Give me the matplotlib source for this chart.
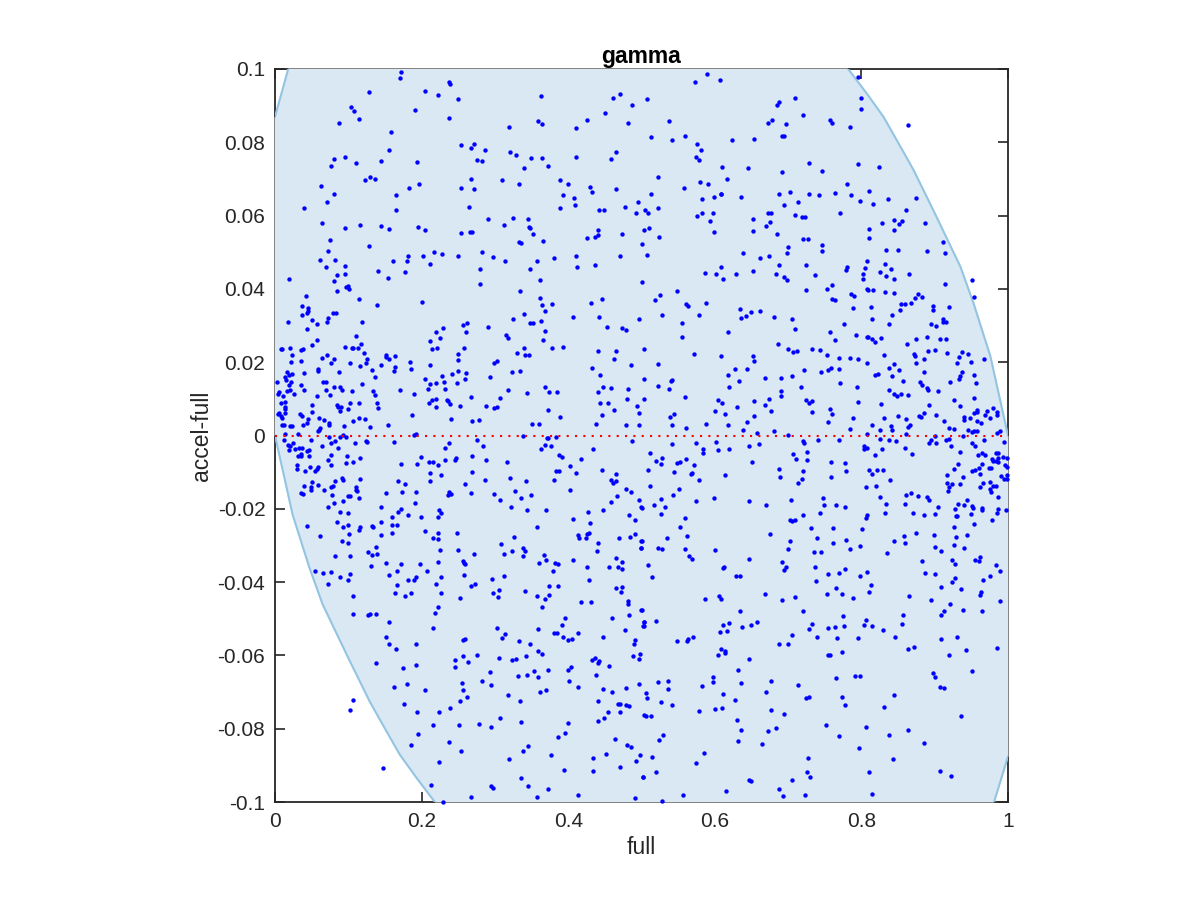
import numpy as np
import matplotlib
matplotlib.use('Agg')
import matplotlib.pyplot as plt

plt.rcParams['font.family'] = ['Liberation Sans', 'DejaVu Sans']
plt.rcParams['axes.unicode_minus'] = False

# (full, accel-full), one list per quadrant
upper_left = [
(.172,.0993),(.171,.0975),(.238,.0965),(.239,.0959),(.128,.0936),(.205,.094),(.223,.0928),(.250,.0919),(.363,.0927),(.471,.0932),
(.461,.092),(.487,.0902),(.104,.0896),(.108,.0886),(.191,.0888),(.115,.0864),(.238,.0867),(.450,.0881),(.425,.0861),(.359,.0858),
(.364,.0851),(.481,.0852),(.087,.0852),(.319,.0841),(.410,.084),(.158,.0828),(.155,.0778),(.254,.0793),(.272,.0795),(.267,.0784),
(.287,.078),(.320,.0773),(.329,.0764),(.465,.0773),(.459,.0755),(.096,.0761),(.081,.0755),(.111,.0744),(.145,.0749),(.194,.0745),
(.275,.0753),(.283,.0750),(.349,.0758),(.364,.0758),(.410,.0760),(.077,.0735),(.340,.0731),(.372,.0734),(.123,.0697),(.129,.0706),
(.136,.0700),(.267,.0700),(.310,.0697),(.389,.0697),(.400,.0687),(.333,.0686),(.197,.0687),(.063,.0680),(.183,.0676),(.254,.0676),
(.272,.0672),(.430,.0677),(.433,.0664),(.465,.0673),(.081,.0659),(.165,.0657),(.393,.0656),(.408,.0648),(.071,.0637),(.409,.0630),
(.495,.0637),(.040,.0622),(.264,.0624),(.389,.0620),(.442,.0616),(.449,.0616),(.478,.0624),(.165,.0614),(.492,.0608),(.291,.0591),
(.325,.0594),(.345,.0590),(.064,.0580),(.313,.0575),(.116,.0573),(.144,.0571),(.095,.0567),(.155,.0564),(.195,.0570),(.205,.0562),
(.347,.0570),(.348,.0566),(.254,.0552),(.266,.0556),(.269,.0556),(.352,.0550),(.440,.0560),(.473,.0551),(.426,.0539),(.436,.0541),
(.440,.0546),(.075,.0534),(.333,.0528),(.335,.0524),(.365,.0531),(.128,.0518),(.072,.0503),(.062,.0479),(.082,.0480),(.182,.0489),
(.202,.0490),(.217,.0500),(.228,.0495),(.250,.0490),(.283,.0501),(.297,.0487),(.471,.0489),(.410,.0489),(.161,.0477),(.180,.0475),
(.314,.0476),(.358,.0476),(.381,.0483),(.096,.0463),(.070,.0460),(.212,.0467),(.412,.0460),(.437,.0464),(.348,.0455),(.140,.0450),
(.279,.0453),(.177,.0447),(.095,.0441),(.085,.0439),(.154,.0431),(.019,.0426),(.362,.0423),(.081,.0422),(.280,.0413),(.099,.0409),
(.097,.0404),(.101,.0400),(.085,.0395),(.334,.0393),(.042,.0381),(.115,.0373),(.362,.0375),(.200,.0365),(.431,.0362),(.446,.0372),
(.378,.0360),(.364,.0357),(.139,.0355),(.037,.0354),(.045,.0347),(.045,.0341),(.044,.0334),(.079,.0334),(.083,.0335),(.369,.0339),
(.037,.0328),(.340,.0331),(.072,.0321),(.406,.0323),(.325,.0319),(.442,.0322),(.496,.0318),(.051,.0314),(.363,.0313),(.018,.0309),
(.071,.0309),(.119,.0309),(.057,.0304),(.257,.0302),(.262,.0308),(.348,.0306),(.352,.0306),(.290,.0297),(.229,.0293),(.453,.0297),
(.474,.0292),(.479,.0287),(.043,.0290),(.219,.0283),(.261,.0282),(.369,.0284),(.315,.0275),(.111,.0271),(.318,.0266),(.225,.0265),
(.057,.0261),(.211,.0258),(.366,.0260),(.050,.0246),(.117,.0250),(.096,.0242),(.008,.0235),(.010,.0236),(.021,.0240),(.105,.0238),
(.107,.0240),(.113,.0240),(.221,.0239),(.214,.0235),(.258,.0238),(.340,.0240),(.378,.0239),(.393,.0241),(.441,.0231),(.465,.0230),
(.036,.0232),(.038,.0236),(.330,.0226),(.121,.0224),(.023,.0219),(.071,.0220),(.152,.0220),(.152,.0215),(.164,.0218),(.249,.0222),
(.341,.0221),(.346,.0220),(.064,.0211),(.081,.0209),(.156,.0210),(.125,.0208),(.124,.0199),(.249,.0206),(.462,.0208),(.022,.0200),
(.036,.0202),(.077,.0197),(.103,.0199),(.145,.0193),(.184,.0201),(.212,.0193),(.299,.0198),(.303,.0204),(.485,.0191),(.116,.0190),
(.059,.0181),(.058,.0176),(.164,.0186),(.162,.0177),(.432,.0183),(.132,.0179),(.186,.0181),(.323,.0173),(.334,.0176),(.017,.0172),
(.019,.0166),(.023,.0167),(.039,.0170),(.087,.0173),(.242,.0168),(.250,.0175),(.261,.0170),(.228,.0162),(.293,.0160),(.444,.0166),
(.137,.0160),(.013,.0159),(.015,.0152),(.259,.0153),(.003,.0146),(.022,.0147),(.066,.0146),(.069,.0146),(.231,.0146),(.205,.0153),
(.219,.0143),(.212,.0141),(.248,.0142),(.119,.0141),(.036,.0137),(.019,.0137),(.368,.0133),(.448,.0131),(.458,.0130),(.089,.0131),
(.080,.0131),(.070,.0125),(.039,.0123),(.091,.0124),(.021,.0125),(.016,.0121),(.105,.0121),(.134,.0122),(.171,.0123),(.209,.0126),
(.232,.0128),(.318,.0124),(.482,.0126),(.005,.0118),(.004,.0112),(.026,.0114),(.374,.0118),(.385,.0118),(.344,.0116),(.441,.0118),
(.136,.0111),(.189,.0112),(.075,.0111),(.057,.0109),(.011,.0108),(.267,.0105),(.307,.0101),(.480,.0099),(.220,.0100),(.214,.0098),
(.234,.0098),(.236,.0094),(.013,.0092),(.008,.0089),(.102,.0090),(.115,.0089),(.139,.0088),(.210,.0090),(.443,.0089),(.454,.0089),
(.239,.0087),(.084,.0083),(.086,.0079),(.051,.0082),(.090,.0077),(.013,.0079),(.219,.0078),(.252,.0081),(.288,.0081),(.303,.0079),
(.299,.0074),(.141,.0076),(.100,.0071),(.494,.0080),(.462,.0070),(.013,.0071),(.372,.0069),(.004,.0060),(.006,.0061),(.088,.0066),
(.051,.0065),(.013,.0061),(.034,.0060),(.037,.0052),(.008,.0054),(.009,.0049),(.187,.0057),(.446,.0057),(.497,.0061),(.060,.0049),
(.115,.0049),(.123,.0046),(.389,.0050),(.045,.0044),(.240,.0044),(.067,.0041),(.106,.0040),(.269,.0039),(.278,.0041),(.073,.0034),
(.043,.0034),(.073,.0029),(.010,.0030),(.012,.0030),(.038,.0030),(.154,.0030),(.351,.0032),(.360,.0032),(.438,.0031),(.479,.0028),
(.497,.0030),(.094,.0025),(.020,.0026),(.023,.0025),(.130,.0022),(.061,.0021),(.060,.0016),(.058,.0011),(.031,.0005),(.014,.0003),
(.193,.0005),(.190,.0001),(.093,.0001),(.073,-.0005),(.089,-.0003),(.097,-.0003),(.338,-.0001),(.371,-.0006),(.384,-.0003),
]

upper_right = [
(.590,.0985),(.573,.0964),(.607,.0969),(.796,.0979),(.508,.0917),(.709,.0922),(.799,.0922),(.688,.0909),(.685,.0903),(.800,.0892),
(.720,.0875),(.538,.0857),(.678,.0862),(.672,.0854),(.697,.0849),(.757,.0860),(.760,.0852),(.864,.0847),(.784,.0841),(.513,.0815),
(.559,.0817),(.653,.0810),(.691,.0816),(.694,.0817),(.541,.0807),(.623,.0805),(.576,.0796),(.581,.0780),(.574,.0760),(.578,.0753),
(.729,.0744),(.796,.0740),(.610,.0733),(.645,.0729),(.824,.0733),(.692,.0718),(.746,.0721),(.523,.0704),(.617,.0700),(.580,.0692),
(.591,.0686),(.781,.0685),(.558,.0676),(.513,.0660),(.608,.0659),(.609,.0658),(.688,.0660),(.703,.0665),(.729,.0658),(.742,.0657),
(.764,.0663),(.786,.0657),(.811,.0667),(.599,.0652),(.636,.0651),(.583,.0645),(.798,.0640),(.836,.0644),(.875,.0647),(.714,.0637),
(.816,.0631),(.695,.0628),(.523,.0622),(.505,.0616),(.509,.0607),(.576,.0600),(.583,.0606),(.597,.0607),(.672,.0607),(.677,.0608),
(.710,.0603),(.771,.0608),(.861,.0616),(.652,.0591),(.719,.0595),(.723,.0596),(.593,.0585),(.675,.0583),(.828,.0580),(.844,.0587),
(.856,.0585),(.851,.0578),(.887,.0581),(.670,.0571),(.503,.0561),(.510,.0565),(.811,.0563),(.845,.0562),(.652,.0557),(.599,.0556),
(.685,.0551),(.524,.0541),(.721,.0536),(.727,.0535),(.811,.0538),(.912,.0527),(.500,.0522),(.746,.0519),(.700,.0514),(.746,.0504),
(.834,.0507),(.850,.0506),(.889,.0503),(.639,.0498),(.698,.0497),(.914,.0498),(.507,.0493),(.674,.0490),(.661,.0484),(.808,.0477),
(.724,.0466),(.687,.0464),(.832,.0467),(.781,.0461),(.608,.0461),(.805,.0458),(.841,.0454),(.779,.0451),(.652,.0450),(.825,.0446),
(.587,.0443),(.602,.0441),(.684,.0441),(.629,.0440),(.737,.0438),(.802,.0440),(.865,.0441),(.833,.0435),(.695,.0433),(.611,.0427),
(.802,.0426),(.844,.0427),(.951,.0424),(.699,.0423),(.500,.0420),(.760,.0411),(.914,.0413),(.724,.0398),(.753,.0399),(.807,.0400),
(.809,.0396),(.816,.0397),(.549,.0395),(.832,.0391),(.845,.0390),(.786,.0387),(.790,.0381),(.525,.0382),(.883,.0379),(.877,.0385),
(.954,.0379),(.873,.0374),(.518,.0370),(.760,.0373),(.764,.0369),(.588,.0362),(.854,.0359),(.859,.0360),(.867,.0361),(.561,.0358),
(.563,.0352),(.898,.0354),(.789,.0348),(.813,.0350),(.920,.0350),(.634,.0345),(.897,.0343),(.852,.0342),(.650,.0337),(.661,.0339),
(.528,.0329),(.579,.0329),(.842,.0328),(.636,.0321),(.642,.0327),(.681,.0324),(.705,.0318),(.815,.0319),(.912,.0318),(.916,.0310),
(.912,.0310),(.555,.0308),(.776,.0305),(.838,.0304),(.895,.0304),(.902,.0300),(.710,.0290),(.618,.0283),(.757,.0282),(.555,.0270),
(.793,.0273),(.807,.0270),(.809,.0270),(.764,.0261),(.814,.0264),(.827,.0267),(.874,.0263),(.890,.0268),(.907,.0264),(.915,.0262),
(.819,.0255),(.686,.0250),(.862,.0250),(.503,.0237),(.700,.0236),(.707,.0229),(.712,.0231),(.733,.0235),(.743,.0232),(.901,.0233),
(.891,.0230),(.572,.0223),(.872,.0223),(.917,.0226),(.937,.0227),(.945,.0223),(.652,.0216),(.609,.0216),(.753,.0219),(.831,.0220),
(.873,.0216),(.933,.0213),(.769,.0211),(.785,.0211),(.795,.0208),(.886,.0208),(.967,.0208),(.654,.0202),(.807,.0199),(.875,.0199),
(.930,.0198),(.950,.0201),(.522,.0195),(.844,.0196),(.837,.0184),(.627,.0181),(.644,.0181),(.722,.0179),(.759,.0183),(.755,.0179),
(.769,.0181),(.745,.0173),(.851,.0180),(.886,.0174),(.937,.0172),(.618,.0165),(.822,.0169),(.818,.0166),(.954,.0166),(.668,.0158),
(.705,.0161),(.842,.0161),(.690,.0157),(.503,.0154),(.935,.0161),(.933,.0154),(.542,.0151),(.540,.0149),(.633,.0148),(.857,.0150),
(.880,.0146),(.921,.0145),(.771,.0144),(.956,.0143),(.522,.0135),(.619,.0133),(.717,.0131),(.794,.0131),(.882,.0137),(.890,.0130),
(.538,.0127),(.838,.0124),(.891,.0123),(.904,.0121),(.690,.0121),(.845,.0113),(.848,.0109),(.854,.0114),(.864,.0111),(.690,.0107),
(.559,.0105),(.504,.0099),(.604,.0098),(.674,.0100),(.725,.0098),(.728,.0090),(.733,.0093),(.796,.0091),(.926,.0096),(.954,.0101),
(.610,.0088),(.654,.0094),(.668,.0083),(.827,.0085),(.892,.0084),(.630,.0078),(.934,.0081),(.757,.0072),(.676,.0068),(.600,.0066),
(.733,.0064),(.886,.0062),(.958,.0070),(.972,.0068),(.980,.0074),(.985,.0065),(.958,.0063),(.954,.0061),(.614,.0060),(.760,.0058),
(.902,.0057),(.544,.0059),(.985,.0055),(.969,.0055),(.654,.0054),(.850,.0054),(.879,.0052),(.881,.0051),(.539,.0050),(.940,.0051),
(.948,.0049),(.975,.0047),(.788,.0047),(.831,.0047),(.861,.0045),(.940,.0042),(.913,.0039),(.958,.0039),(.754,.0036),(.644,.0036),
(.588,.0032),(.963,.0033),(.541,.0030),(.618,.0030),(.814,.0030),(.841,.0027),(.866,.0029),(.864,.0022),(.561,.0021),(.784,.0019),
(.842,.0016),(.919,.0020),(.927,.0019),(.639,.0014),(.681,.0013),(.825,.0016),(.945,.0014),(.958,.0013),(.954,.0011),(.951,.0009),
(.989,.0011),(.985,.0007),(.658,.0006),(.700,.0002),(.808,.0003),(.861,.0005),(.900,.0000),(.939,-.0002),
]

lower_left = [
(.012,-.0012),(.049,-.0012),(.025,-.0020),(.018,-.0025),(.020,-.0028),(.064,-.0030),(.076,-.0020),(.082,-.0014),(.109,-.0020),(.124,-.0014),
(.126,-.0019),(.163,-.0017),(.275,-.0013),(.238,-.0021),(.284,-.0030),(.232,-.0035),(.487,-.0014),(.372,-.0007),(.368,-.0026),(.376,-.0030),
(.363,-.0037),(.434,-.0036),(.027,-.0036),(.019,-.0039),(.033,-.0033),(.037,-.0034),(.086,-.0034),(.044,-.0041),(.046,-.0039),(.036,-.0050),
(.036,-.0056),(.031,-.0057),(.047,-.0055),(.076,-.0054),(.098,-.0055),(.116,-.0062),(.388,-.0053),(.391,-.0059),(.417,-.0064),(.199,-.0060),
(.247,-.0061),(.245,-.0066),(.269,-.0056),(.232,-.0067),(.288,-.0067),(.072,-.0067),(.106,-.0071),(.097,-.0074),(.210,-.0071),(.215,-.0071),
(.316,-.0072),(.172,-.0078),(.194,-.0078),(.077,-.0080),(.030,-.0080),(.222,-.0081),(.403,-.0083),(.048,-.0086),(.058,-.0086),(.057,-.0092),
(.030,-.0091),(.041,-.0098),(.055,-.0097),(.383,-.0097),(.388,-.0096),(.446,-.0093),(.212,-.0101),(.269,-.0100),(.410,-.0102),(.465,-.0104),
(.226,-.0109),(.320,-.0117),(.091,-.0117),(.093,-.0122),(.116,-.0120),(.050,-.0126),(.082,-.0124),(.212,-.0125),(.168,-.0125),(.287,-.0121),
(.343,-.0123),(.381,-.0122),(.458,-.0122),(.461,-.0129),(.465,-.0124),(.178,-.0131),(.259,-.0131),(.059,-.0134),(.039,-.0137),(.049,-.0140),
(.079,-.0139),(.076,-.0140),(.110,-.0141),(.049,-.0149),(.067,-.0150),(.111,-.0148),(.112,-.0152),(.402,-.0150),(.328,-.0151),(.479,-.0147),
(.485,-.0154),(.192,-.0154),(.173,-.0155),(.152,-.0158),(.267,-.0156),(.238,-.0154),(.236,-.0162),(.240,-.0160),(.036,-.0158),(.038,-.0159),
(.078,-.0161),(.299,-.0160),(.349,-.0162),(.466,-.0165),(.100,-.0165),(.102,-.0164),(.115,-.0170),(.336,-.0170),(.307,-.0177),(.497,-.0176),
(.081,-.0184),(.093,-.0180),(.191,-.0184),(.459,-.0181),(.145,-.0194),(.072,-.0195),(.322,-.0195),(.500,-.0197),(.172,-.0200),(.224,-.0202),
(.344,-.0203),(.370,-.0203),(.448,-.0202),(.089,-.0208),(.168,-.0210),(.226,-.0211),(.100,-.0212),(.427,-.0208),(.182,-.0216),(.483,-.0217),
(.160,-.0223),(.199,-.0222),(.223,-.0223),(.406,-.0228),(.491,-.0230),(.085,-.0237),(.144,-.0237),(.430,-.0240),(.099,-.0243),(.160,-.0243),
(.166,-.0243),(.044,-.0248),(.132,-.0247),(.134,-.0250),(.093,-.0250),(.116,-.0250),(.114,-.0258),(.357,-.0249),(.204,-.0260),(.160,-.0266),
(.101,-.0270),(.145,-.0271),(.223,-.0267),(.248,-.0267),(.428,-.0265),(.491,-.0270),(.061,-.0275),(.326,-.0276),(.413,-.0272),(.415,-.0279),
(.424,-.0279),(.425,-.0270),(.215,-.0281),(.222,-.0282),(.469,-.0279),(.484,-.0278),(.500,-.0289),(.091,-.0288),(.100,-.0292),(.309,-.0295),
(.440,-.0294),(.138,-.0303),(.338,-.0307),(.250,-.0312),(.225,-.0313),(.341,-.0314),(.439,-.0315),(.499,-.0307),(.127,-.0317),(.324,-.0316),
(.313,-.0322),(.271,-.0323),(.139,-.0322),(.133,-.0326),(.339,-.0329),(.367,-.0327),(.082,-.0330),(.102,-.0330),(.465,-.0335),(.370,-.0340),
(.406,-.0341),(.257,-.0342),(.223,-.0345),(.258,-.0347),(.259,-.0351),(.152,-.0348),(.172,-.0350),(.198,-.0351),(.360,-.0347),(.382,-.0348),
(.386,-.0350),(.473,-.0344),(.131,-.0357),(.425,-.0359),(.456,-.0358),(.468,-.0360),(.474,-.0365),(.055,-.0370),(.066,-.0374),(.076,-.0373),
(.167,-.0371),(.207,-.0369),(.379,-.0370),(.103,-.0378),(.156,-.0380),(.258,-.0380),(.226,-.0385),(.313,-.0383),(.089,-.0387),(.192,-.0385),
(.099,-.0394),(.182,-.0394),(.190,-.0395),(.296,-.0391),(.428,-.0394),(.072,-.0405),(.219,-.0404),(.273,-.0405),(.267,-.0410),(.167,-.0409),
(.374,-.0410),(.386,-.0412),(.465,-.0417),(.474,-.0414),(.472,-.0426),(.341,-.0425),(.306,-.0422),(.164,-.0429),(.186,-.0430),(.227,-.0430),
(.297,-.0431),(.177,-.0437),(.106,-.0437),(.374,-.0434),(.357,-.0437),(.304,-.0440),(.252,-.0443),(.369,-.0445),(.418,-.0455),(.431,-.0455),
(.481,-.0451),(.482,-.0461),(.222,-.0469),(.364,-.0469),(.500,-.0477),(.218,-.0483),(.107,-.0488),(.130,-.0486),(.127,-.0491),(.138,-.0486),
(.483,-.0491),(.395,-.0499),(.460,-.0499),(.156,-.0508),(.391,-.0517),(.503,-.0510),(.502,-.0520),(.216,-.0526),(.303,-.0524),(.359,-.0527),
(.478,-.0530),(.380,-.0539),(.385,-.0539),(.414,-.0540),(.314,-.0541),(.393,-.0549),(.152,-.0551),(.310,-.0552),(.405,-.0554),(.447,-.0551),
(.400,-.0559),(.256,-.0557),(.259,-.0555),(.491,-.0558),(.333,-.0562),(.490,-.0568),(.155,-.0570),(.193,-.0570),(.348,-.0570),(.165,-.0582),
(.359,-.0587),(.364,-.0597),(.498,-.0595),(.489,-.0601),(.257,-.0602),(.275,-.0599),(.306,-.0606),(.342,-.0602),(.437,-.0607),(.432,-.0612),
(.496,-.0611),(.245,-.0612),(.324,-.0612),(.329,-.0610),(.442,-.0614),(.440,-.0622),(.138,-.0620),(.263,-.0619),(.192,-.0625),(.245,-.0631),
(.456,-.0628),(.175,-.0634),(.404,-.0632),(.400,-.0640),(.372,-.0640),(.354,-.0643),(.293,-.0646),(.344,-.0653),(.331,-.0656),(.438,-.0653),
(.359,-.0660),(.401,-.0669),(.283,-.0671),(.255,-.0676),(.180,-.0679),(.294,-.0682),(.414,-.0686),(.162,-.0686),(.496,-.0677),(.257,-.0694),
(.204,-.0695),(.447,-.0692),(.479,-.0690),(.460,-.0699),(.370,-.0694),(.362,-.0699),(.318,-.0707),(.262,-.0714),(.253,-.0725),(.334,-.0724),
(.107,-.0721),(.441,-.0724),(.103,-.0749),(.176,-.0733),(.468,-.0732),(.471,-.0733),(.479,-.0734),(.483,-.0739),(.239,-.0743),(.194,-.0754),
(.224,-.0754),(.454,-.0754),(.471,-.0754),(.307,-.0772),(.449,-.0772),(.440,-.0779),(.504,-.0763),(.335,-.0782),(.400,-.0785),(.216,-.0791),
(.251,-.0790),(.278,-.0787),(.294,-.0796),(.395,-.0813),(.195,-.0814),(.386,-.0822),(.464,-.0828),(.186,-.0845),(.238,-.0835),(.480,-.0845),
(.486,-.0851),(.345,-.0848),(.254,-.0861),(.339,-.0861),(.376,-.0871),(.451,-.0870),(.498,-.0873),(.434,-.0880),(.319,-.0884),(.492,-.0889),
(.224,-.0892),(.147,-.0908),(.470,-.0904),(.394,-.0914),(.434,-.0916),(.336,-.0934),(.502,-.0933),(.213,-.0953),(.295,-.0955),(.298,-.0962),
(.345,-.0956),(.373,-.0964),(.414,-.0980),(.268,-.0985),(.358,-.0985),(.491,-.0989),(.229,-.1000),
]

lower_right = [
(.720,-.0014),(.722,-.0021),(.541,-.0022),(.574,-.0020),(.601,-.0018),(.741,-.0012),(.769,-.0011),(.826,-.0009),(.837,-.0013),(.847,-.0014),
(.895,-.0011),(.892,-.0020),(.902,-.0021),(.916,-.0012),(.920,-.0009),(.967,-.0011),(.994,-.0017),(.951,-.0020),(.647,-.0028),(.660,-.0023),
(.922,-.0028),(.955,-.0028),(.584,-.0037),(.584,-.0047),(.605,-.0039),(.620,-.0037),(.804,-.0028),(.803,-.0038),(.808,-.0035),(.828,-.0036),
(.859,-.0033),(.869,-.0050),(.935,-.0046),(.512,-.0048),(.707,-.0050),(.726,-.0046),(.818,-.0054),(.959,-.0053),(.964,-.0048),(.968,-.0054),
(.983,-.0047),(.986,-.0049),(.528,-.0061),(.711,-.0064),(.726,-.0068),(.561,-.0064),(.993,-.0060),(.998,-.0061),(.978,-.0064),(.986,-.0062),
(.980,-.0070),(.987,-.0071),(.983,-.0070),(.520,-.0070),(.527,-.0077),(.548,-.0075),(.553,-.0071),(.651,-.0072),(.759,-.0073),(.777,-.0074),
(.571,-.0080),(.932,-.0078),(.965,-.0079),(.996,-.0081),(.998,-.0085),(.509,-.0093),(.688,-.0092),(.779,-.0096),(.811,-.0094),(.821,-.0094),
(.830,-.0093),(.927,-.0091),(.960,-.0090),(.955,-.0095),(.951,-.0098),(.974,-.0090),(.977,-.0090),(.544,-.0099),(.721,-.0098),(.569,-.0102),
(.568,-.0105),(.614,-.0108),(.815,-.0106),(.962,-.0104),(.917,-.0108),(.689,-.0112),(.759,-.0112),(.939,-.0112),(.990,-.0111),(.999,-.0108),
(.995,-.0118),(.998,-.0120),(.719,-.0118),(.578,-.0122),(.839,-.0122),(.976,-.0126),(.917,-.0129),(.924,-.0132),(.935,-.0131),(.966,-.0130),
(.714,-.0130),(.512,-.0139),(.806,-.0140),(.820,-.0138),(.979,-.0138),(.984,-.0138),(.962,-.0141),(.920,-.0141),(.975,-.0145),(.551,-.0147),
(.918,-.0152),(.977,-.0153),(.543,-.0161),(.868,-.0157),(.861,-.0162),(.877,-.0166),(.889,-.0169),(.825,-.0168),(.748,-.0170),(.986,-.0167),
(.599,-.0170),(.527,-.0174),(.574,-.0178),(.646,-.0180),(.704,-.0176),(.892,-.0177),(.944,-.0176),(.859,-.0187),(.833,-.0186),(.932,-.0186),
(.517,-.0190),(.670,-.0190),(.749,-.0190),(.765,-.0190),(.940,-.0190),(.951,-.0192),(.532,-.0194),(.499,-.0196),(.778,-.0196),(.904,-.0194),
(.952,-.0198),(.965,-.0198),(.964,-.0204),(.986,-.0201),(.928,-.0201),(.997,-.0204),(.871,-.0211),(.832,-.0211),(.743,-.0211),(.950,-.0213),
(.985,-.0212),(.526,-.0214),(.885,-.0217),(.900,-.0214),(.720,-.0218),(.931,-.0220),(.929,-.0221),(.807,-.0218),(.806,-.0226),(.560,-.0226),
(.702,-.0231),(.706,-.0233),(.710,-.0231),(.978,-.0230),(.953,-.0242),(.553,-.0251),(.731,-.0253),(.761,-.0253),(.926,-.0250),(.801,-.0256),
(.675,-.0270),(.562,-.0275),(.875,-.0267),(.858,-.0273),(.899,-.0271),(.944,-.0272),(.929,-.0276),(.535,-.0279),(.740,-.0280),(.779,-.0284),
(.844,-.0287),(.703,-.0289),(.499,-.0289),(.761,-.0294),(.860,-.0293),(.926,-.0298),(.798,-.0301),(.901,-.0304),(.523,-.0306),(.528,-.0309),
(.499,-.0307),(.559,-.0309),(.784,-.0310),(.700,-.0310),(.600,-.0312),(.940,-.0308),(.909,-.0315),(.736,-.0318),(.745,-.0317),(.835,-.0320),
(.565,-.0330),(.569,-.0338),(.646,-.0337),(.962,-.0332),(.923,-.0340),(.955,-.0340),(.960,-.0342),(.882,-.0342),(.692,-.0344),(.928,-.0351),
(.509,-.0353),(.984,-.0354),(.737,-.0360),(.697,-.0359),(.695,-.0368),(.778,-.0363),(.611,-.0362),(.612,-.0360),(.989,-.0370),(.887,-.0374),
(.808,-.0372),(.901,-.0377),(.770,-.0376),(.754,-.0379),(.629,-.0382),(.635,-.0382),(.514,-.0385),(.798,-.0384),(.975,-.0383),(.928,-.0389),
(.966,-.0394),(.738,-.0396),(.923,-.0400),(.813,-.0409),(.908,-.0413),(.766,-.0415),(.936,-.0419),(.811,-.0428),(.963,-.0427),(.962,-.0434),
(.668,-.0433),(.753,-.0432),(.773,-.0432),(.606,-.0438),(.865,-.0439),(.710,-.0440),(.609,-.0446),(.587,-.0446),(.788,-.0444),(.895,-.0450),
(.692,-.0450),(.989,-.0451),(.921,-.0460),(.939,-.0475),(.635,-.0479),(.721,-.0479),(.499,-.0477),(.965,-.0479),(.913,-.0480),(.908,-.0489),
(.857,-.0491),(.775,-.0493),(.806,-.0503),(.520,-.0506),(.504,-.0510),(.503,-.0520),(.620,-.0511),(.657,-.0509),(.733,-.0513),(.855,-.0513),
(.611,-.0518),(.649,-.0518),(.637,-.0522),(.764,-.0522),(.776,-.0521),(.803,-.0518),(.815,-.0519),(.754,-.0525),(.729,-.0528),(.829,-.0530),
(.607,-.0536),(.616,-.0534),(.705,-.0543),(.570,-.0550),(.740,-.0550),(.767,-.0553),(.795,-.0552),(.846,-.0551),(.930,-.0551),(.563,-.0556),
(.562,-.0562),(.548,-.0560),(.909,-.0555),(.688,-.0568),(.700,-.0569),(.872,-.0577),(.609,-.0582),(.864,-.0583),(.943,-.0585),(.985,-.0580),
(.614,-.0588),(.614,-.0594),(.604,-.0598),(.773,-.0592),(.754,-.0599),(.757,-.0599),(.919,-.0600),(.646,-.0609),(.631,-.0641),(.951,-.0642),
(.897,-.0648),(.901,-.0658),(.791,-.0656),(.798,-.0656),(.597,-.0660),(.765,-.0663),(.676,-.0670),(.598,-.0672),(.522,-.0672),(.536,-.0670),
(.636,-.0676),(.714,-.0682),(.583,-.0683),(.536,-.0691),(.907,-.0686),(.913,-.0690),(.670,-.0700),(.506,-.0703),(.611,-.0706),(.844,-.0708),
(.508,-.0717),(.724,-.0717),(.728,-.0714),(.774,-.0714),(.628,-.0721),(.526,-.0727),(.541,-.0736),(.777,-.0736),(.831,-.0740),(.600,-.0745),
(.610,-.0744),(.676,-.0750),(.579,-.0753),(.694,-.0760),(.506,-.0764),(.513,-.0764),(.936,-.0766),(.630,-.0776),(.752,-.0790),(.806,-.0795),
(.684,-.0797),(.636,-.0803),(.673,-.0806),(.864,-.0804),(.530,-.0816),(.838,-.0817),(.769,-.0820),(.524,-.0832),(.631,-.0834),(.885,-.0839),
(.665,-.0841),(.797,-.0854),(.585,-.0867),(.515,-.0878),(.574,-.0894),(.727,-.0879),(.843,-.0883),(.520,-.0919),(.726,-.0919),(.810,-.0918),
(.907,-.0915),(.922,-.0928),(.502,-.0933),(.730,-.0932),(.646,-.0941),(.649,-.0944),(.706,-.0940),(.688,-.0965),(.615,-.0970),(.557,-.0981),
(.723,-.0980),(.815,-.0978),(.693,-.0984),(.528,-.0996),
]

# edges of the shaded region
right_x = [.782, .807, .830, .857, .871, .900, .935, .953, .976, 1.0]
right_y = [.1, .0934, .087, .0775, .0725, .0607, .0461, .0361, .0216, 0]
left_x = [.218, .193, .170, .143, .129, .100, .065, .047, .024, 0]
left_y = [-.1, -.0934, -.087, -.0775, -.0725, -.0607, -.0461, -.0361, -.0216, 0]
top_corner_x = [0, .018]
top_corner_y = [.087, .1]
bottom_corner_x = [1.0, .981]
bottom_corner_y = [-.0876, -.1]

xticks = [0, .2, .4, .6, .8, 1]
xticklabels = ['0', '0.2', '0.4', '0.6', '0.8', '1']
yticks = [-.1, -.08, -.06, -.04, -.02, 0, .02, .04, .06, .08, .1]
yticklabels = ['-0.1', '-0.08', '-0.06', '-0.04', '-0.02', '0', '0.02', '0.04', '0.06', '0.08', '0.1']

dark = '#262626'
band_fill = '#d9e8f3'
band_line = '#93c4e2'
rim = '#8c8c8c'
pts = np.array(upper_left + upper_right + lower_left + lower_right)

fig = plt.figure(figsize=(12, 9), dpi=100)
ax = fig.add_axes([275/1200, 98/900, 733/1200, 733/900])
ax.set_axisbelow(True)

outline_x = top_corner_x + right_x + bottom_corner_x + left_x
outline_y = top_corner_y + right_y + bottom_corner_y + left_y
ax.fill(outline_x, outline_y, color=band_fill, lw=0, zorder=3)

# axis line shows only as a thin grey rim where the band sits on it
ax.plot([top_corner_x[1], right_x[0]], [.1, .1], color=rim, lw=1.3, clip_on=False, zorder=2, solid_capstyle='butt')
ax.plot([left_x[0], bottom_corner_x[1]], [-.1, -.1], color=rim, lw=1.3, clip_on=False, zorder=2, solid_capstyle='butt')
ax.plot([0, 0], [0, top_corner_y[0]], color=rim, lw=1.3, clip_on=False, zorder=2, solid_capstyle='butt')
ax.plot([1, 1], [bottom_corner_y[0], 0], color=rim, lw=1.3, clip_on=False, zorder=2, solid_capstyle='butt')

for ex, ey in [(top_corner_x, top_corner_y), (right_x, right_y), (bottom_corner_x, bottom_corner_y), (left_x, left_y)]:
    ax.plot(ex, ey, color=band_line, lw=1.5, zorder=3.5)

ax.plot([0, 1], [0, 0], color='#ff0000', ls=(0, (1, 3)), lw=1.5, zorder=6)
ax.scatter(pts[:, 0], pts[:, 1], s=10, c='#0000ff', linewidths=0, zorder=5, clip_on=False)

ax.set_xlim(0, 1)
ax.set_ylim(-.1, .1)
ax.set_xticks(xticks)
ax.set_xticklabels(xticklabels)
ax.set_yticks(yticks)
ax.set_yticklabels(yticklabels)
ax.tick_params(direction='in', top=True, right=True, length=7, width=1.2, color=dark, labelcolor=dark, labelsize=15)
ax.tick_params(axis='x', pad=7)
ax.tick_params(axis='y', pad=7)
for s in ax.spines.values():
    s.set_linewidth(1.3)
    s.set_color(dark)
    s.set_zorder(1)

ax.set_xlabel('full', fontsize=16.5, color=dark, labelpad=4)
ax.set_ylabel('accel-full', fontsize=16.5, color=dark, labelpad=3)
ax.set_title('gamma', fontsize=16.5, fontweight='bold', color='black', pad=4)

fig.savefig('out.png', dpi=100)
